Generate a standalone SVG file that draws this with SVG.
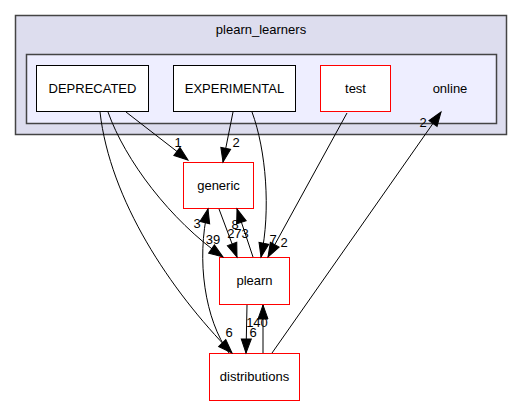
<svg xmlns="http://www.w3.org/2000/svg" width="531" height="407" viewBox="0 0 531 407">
<style>
text{font-family:"Liberation Sans",Arial,sans-serif;font-size:13px;fill:#000}
.n rect{fill:#fff;stroke:#000;stroke-width:1}
.r rect{stroke:#ff0000}
.e path{fill:none;stroke:#000;stroke-width:1;marker-end:url(#ah)}
.lb text{font-size:13px}
</style>
<defs>
<marker id="ah" markerUnits="userSpaceOnUse" markerWidth="16" markerHeight="12" refX="14" refY="5" orient="auto" overflow="visible">
<path d="M0,0 L14,5 L0,10 z" fill="#000" stroke="#000" stroke-width="1"/>
</marker>
</defs>
<rect width="531" height="407" fill="#fff"/>
<g id="cluster_plearn_learners">
<rect x="15.5" y="15.5" width="491" height="119" fill="#ddddee" stroke="#444" stroke-width="1.5"/>
<text x="261" y="34" text-anchor="middle">plearn_learners</text>
</g>
<g id="cluster_online">
<rect x="26.5" y="54.5" width="470" height="69" fill="#eeeeff" stroke="#444" stroke-width="1.5"/>
<text x="450" y="93" text-anchor="middle">online</text>
</g>
<g id="node_DEPRECATED" class="n">
<rect x="36.5" y="65.5" width="112" height="46"/>
<text x="92.5" y="93" text-anchor="middle">DEPRECATED</text>
</g>
<g id="node_EXPERIMENTAL" class="n">
<rect x="173.5" y="65.5" width="122" height="46"/>
<text x="234.5" y="93" text-anchor="middle">EXPERIMENTAL</text>
</g>
<g id="node_test" class="n r">
<rect x="320.5" y="65.5" width="70" height="46"/>
<text x="355.5" y="93" text-anchor="middle">test</text>
</g>
<g id="node_generic" class="n r">
<rect x="183.5" y="162.5" width="70" height="46"/>
<text x="218.5" y="190" text-anchor="middle">generic</text>
</g>
<g id="node_plearn" class="n r">
<rect x="219.5" y="257.5" width="70" height="47"/>
<text x="254.5" y="285" text-anchor="middle">plearn</text>
</g>
<g id="node_distributions" class="n r">
<rect x="209.5" y="353.5" width="90" height="47"/>
<text x="254.5" y="381" text-anchor="middle">distributions</text>
</g>
<g id="connectors" class="e">
<path d="M126,112 L188,160"/>
<path d="M233,112 L223,162"/>
<path d="M252,112 C266,150 271,210 261,257"/>
<path d="M347,113 L268,257"/>
<path d="M272,353 L441,112"/>
<path d="M108,112 C125,160 170,220 223,257"/>
<path d="M100,112 C110,200 170,290 232,353"/>
<path d="M229,353 C205,320 196,260 208,209"/>
<path d="M219,209 L237,257"/>
<path d="M253,257 L237,209"/>
<path d="M247,305 L246,353"/>
<path d="M263,353 L263,305"/>
</g>
<g id="edge_labels" class="lb">
<text x="178" y="147" text-anchor="middle">1</text>
<text x="236" y="147" text-anchor="middle">2</text>
<text x="273" y="244" text-anchor="middle">7</text>
<text x="284" y="247" text-anchor="middle">2</text>
<text x="423" y="127" text-anchor="middle">2</text>
<text x="238" y="238" text-anchor="middle">273</text>
<text x="235" y="229" text-anchor="middle">8</text>
<text x="213" y="244" text-anchor="middle">39</text>
<text x="197" y="228" text-anchor="middle">3</text>
<text x="229" y="337" text-anchor="middle">6</text>
<text x="253" y="337" text-anchor="middle">6</text>
<text x="257" y="327" text-anchor="middle">140</text>
</g>
</svg>
